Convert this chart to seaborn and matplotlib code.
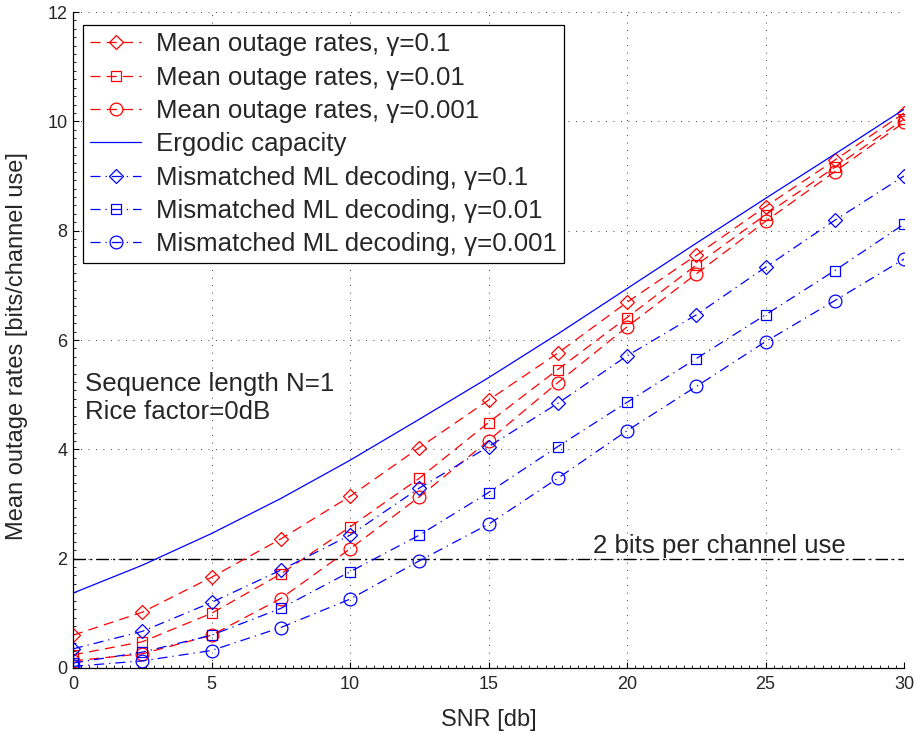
import matplotlib
matplotlib.use("Agg")
import matplotlib.pyplot as plt
import seaborn as sns
import pandas as pd
from matplotlib.ticker import AutoMinorLocator

# ---------------- data ----------------
snr_db = [0, 2.5, 5, 7.5, 10, 12.5, 15, 17.5, 20, 22.5, 25, 27.5, 30]

mean_g01 = [0.60, 1.02, 1.66, 2.36, 3.14, 4.03, 4.90, 5.76, 6.69, 7.55, 8.44, 9.29, 10.15]
mean_g001 = [0.24, 0.48, 1.00, 1.72, 2.58, 3.47, 4.49, 5.46, 6.41, 7.37, 8.29, 9.16, 10.04]
mean_g0001 = [0.13, 0.26, 0.60, 1.27, 2.18, 3.13, 4.16, 5.22, 6.24, 7.21, 8.17, 9.08, 9.98]
ergodic = [1.37, 1.88, 2.46, 3.10, 3.80, 4.55, 5.31, 6.11, 6.94, 7.77, 8.59, 9.40, 10.22]
mism_g01 = [0.35, 0.67, 1.20, 1.79, 2.43, 3.29, 4.05, 4.84, 5.71, 6.46, 7.33, 8.19, 9.00]
mism_g001 = [0.09, 0.29, 0.60, 1.09, 1.76, 2.43, 3.21, 4.05, 4.86, 5.66, 6.46, 7.27, 8.12]
mism_g0001 = [0.03, 0.13, 0.32, 0.74, 1.26, 1.96, 2.63, 3.47, 4.34, 5.15, 5.97, 6.72, 7.48]

labels = [
    "Mean outage rates, \u03b3=0.1",
    "Mean outage rates, \u03b3=0.01",
    "Mean outage rates, \u03b3=0.001",
    "Ergodic capacity",
    "Mismatched ML decoding, \u03b3=0.1",
    "Mismatched ML decoding, \u03b3=0.01",
    "Mismatched ML decoding, \u03b3=0.001",
]
threshold_bits = 2
threshold_label = "2 bits per channel use"
annot_lines = ["Sequence length N=1", "Rice factor=0dB"]
x_ticks = [0, 5, 10, 15, 20, 25, 30]
y_ticks = [0, 2, 4, 6, 8, 10, 12]

# ---------------- style ----------------
sns.set_style("ticks")
plt.rcParams["font.family"] = ["Liberation Sans", "DejaVu Sans"]

W, H = 915, 735
fig = plt.figure(figsize=(W / 100, H / 100), dpi=100)
L, R, T, B = 73, 904, 12, 668
ax = fig.add_axes([L / W, 1 - B / H, (R - L) / W, (B - T) / H])

RED = (1, 0, 0)
BLUE = (0, 0, 1)
dash_red = (0, (8, 5))
dash_blue = (0, (8, 4, 1, 4))

series = [
    (mean_g01, RED, "D", 7.4, dash_red),
    (mean_g001, RED, "s", 7.2, dash_red),
    (mean_g0001, RED, "o", 9.2, dash_red),
    (ergodic, BLUE, None, 0, "-"),
    (mism_g01, BLUE, "D", 7.4, dash_blue),
    (mism_g001, BLUE, "s", 7.2, dash_blue),
    (mism_g0001, BLUE, "o", 9.2, dash_blue),
]

# threshold line
ax.axhline(threshold_bits, color="black", lw=1.0, linestyle=(0, (9, 3, 1.5, 3)), zorder=1.5)

for (vals, col, mk, ms, ls), lab in zip(series, labels):
    df = pd.DataFrame({"snr": snr_db, "rate": vals})
    kw = dict(color=col, linestyle=ls, linewidth=0.9, label=lab, errorbar=None)
    if mk is not None:
        kw.update(marker=mk, markersize=ms, markerfacecolor="none",
                  markeredgecolor=col, markeredgewidth=0.9)
    sns.lineplot(data=df, x="snr", y="rate", ax=ax, **kw)

# axes
ax.set_xlim(0, 30)
ax.set_ylim(0, 12)
ax.set_xticks(x_ticks)
ax.set_yticks(y_ticks)
ax.xaxis.set_minor_locator(AutoMinorLocator(17))
ax.yaxis.set_minor_locator(AutoMinorLocator(13))
ax.tick_params(which="major", direction="in", length=4, width=0.8, labelsize=13, color="black")
ax.tick_params(which="minor", direction="in", length=2, width=0.6, color="black")
ax.tick_params(axis="x", pad=5.5)
ax.tick_params(axis="y", pad=4)
for s in ("top", "right"):
    ax.spines[s].set_visible(False)
for s in ("left", "bottom"):
    ax.spines[s].set_color("black")
    ax.spines[s].set_linewidth(0.9)
ax.grid(True, which="major", color="black", linestyle=(0, (1, 8)), linewidth=0.6)
ax.set_axisbelow(True)

ax.set_xlabel("SNR [db]", fontsize=17)
ax.set_ylabel("Mean outage rates [bits/channel use]", fontsize=17)
ax.xaxis.set_label_coords(0.5, -0.062)
ax.yaxis.set_label_coords(-0.054, 0.49)

# annotations
ax.text(0.43, 5.07, annot_lines[0], fontsize=18.6, va="baseline", ha="left")
ax.text(0.43, 4.55, annot_lines[1], fontsize=18.6, va="baseline", ha="left")
ax.text(18.78, 2.10, threshold_label, fontsize=18.6, va="baseline", ha="left")

leg = ax.legend(loc="upper left", bbox_to_anchor=(0.012, 0.980), borderaxespad=0,
                fontsize=18.6, handlelength=1.98, handletextpad=0.58, labelspacing=0.36,
                borderpad=0.28, frameon=True, fancybox=False, numpoints=1)
fr = leg.get_frame()
fr.set_edgecolor("black")
fr.set_linewidth(0.9)
fr.set_facecolor("white")
fr.set_alpha(1)

fig.savefig("out.png", dpi=100)
